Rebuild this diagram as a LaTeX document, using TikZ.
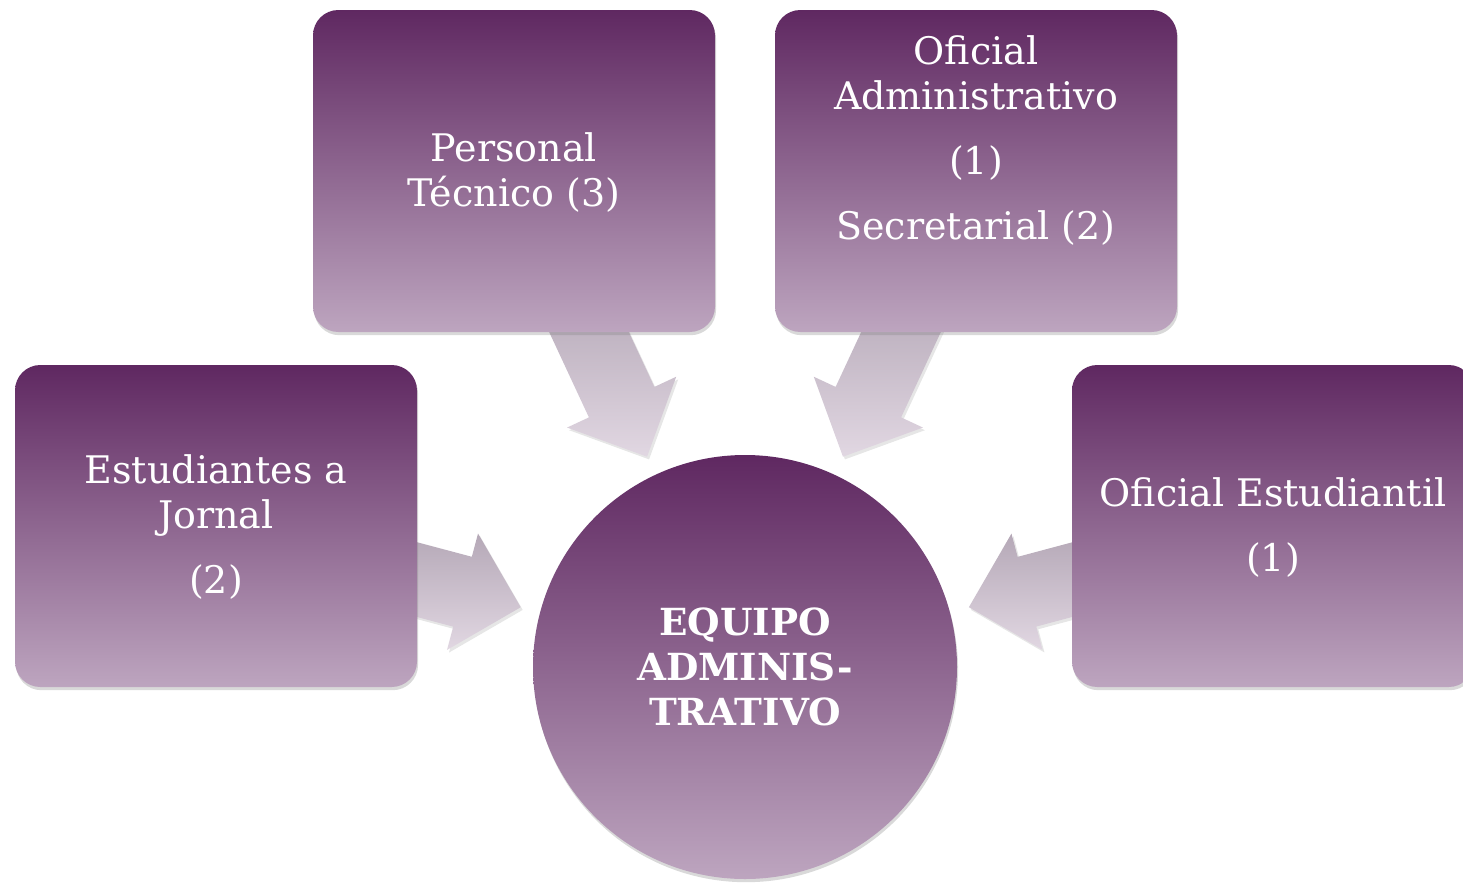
\documentclass[tikz,border=0pt]{standalone}
\usepackage{fontspec}
\setmainfont{DejaVu Serif}
\usepackage{tikz}
\usetikzlibrary{calc,shadows,backgrounds}
\definecolor{plumtop}{RGB}{95,40,97}
\definecolor{plumbot}{RGB}{189,165,191}
\definecolor{arrtop}{RGB}{178,165,180}
\definecolor{arrbot}{RGB}{225,215,226}
\tikzset{every picture/.style={line width=0.75pt}}
\tikzset{
  staffbox/.style={rounded corners=19pt, minimum width=301.5pt, minimum height=241.5pt,
    inner sep=0pt, top color=plumtop, bottom color=plumbot, draw=none,
    drop shadow={opacity=0.3, shadow xshift=0.8pt, shadow yshift=-2.4pt}},
  stafftxt/.style={text=white, align=center, inner sep=0pt,
    font=\fontsize{28.5}{33.75}\selectfont},
  hubcircle/.style={circle, minimum size=318pt, inner sep=0pt, draw=none,
    top color=plumtop, bottom color=plumbot, text=white, align=center,
    font=\fontsize{28}{34}\selectfont\bfseries,
    drop shadow={opacity=0.3, shadow xshift=0.8pt, shadow yshift=-2.4pt}},
  flowarrow/.style={top color=arrtop, bottom color=arrbot, draw=none,
    drop shadow={opacity=0.2, shadow xshift=1.5pt, shadow yshift=-2pt}},
}
% block arrow from box #1 towards circle #2
\newcommand{\blockarrow}[2]{%
  \coordinate (t) at ($(#1.center)!0.246!(#2.center)$);
  \coordinate (h) at ($(#1.center)!0.466!(#2.center)$);
  \coordinate (p) at ($(#1.center)!0.576!(#2.center)$);
  \path[flowarrow] ($(t)!0.2!90:(p)$) -- ($(h)!0.6!90:(p)$) -- ($(h)!1!90:(p)$) -- (p)
    -- ($(h)!1!-90:(p)$) -- ($(h)!0.6!-90:(p)$) -- ($(t)!0.2!-90:(p)$) -- cycle;
}

\begin{document}
\begin{tikzpicture}[x=0.75pt,y=0.75pt,yscale=-1,xscale=1]
\useasboundingbox (0,0) rectangle (1463,882);

%Rounded Rect
\node [staffbox] (tecnico) at (514,171) {};
%Rounded Rect
\node [staffbox] (oficialadm) at (976,171) {};
%Rounded Rect
\node [staffbox] (jornal) at (216,526) {};
%Rounded Rect
\node [staffbox] (estudiantil) at (1273,526) {};
%Circle
\node [hubcircle] (equipo) at (745,667) {EQUIPO\\ADMINIS-\\TRATIVO};

% Text Node
\node [stafftxt] (tecnicotxt) at (514,173) {Personal\\Técnico (3)};
% Text Node
\node [stafftxt] (oficialadmtxt) at (976,141) {Oficial\\Administrativo\\[15pt](1)\\[15pt]Secretarial (2)};
% Text Node
\node [stafftxt] (jornaltxt) at (216,527) {Estudiantes a\\Jornal\\[15pt](2)};
% Text Node
\node [stafftxt] (estudiantiltxt) at (1273,528) {Oficial Estudiantil\\[15pt](1)};

%Block Arrows
\begin{pgfonlayer}{background}
\blockarrow{tecnico}{equipo}
\blockarrow{oficialadm}{equipo}
\blockarrow{jornal}{equipo}
\blockarrow{estudiantil}{equipo}
\end{pgfonlayer}

\end{tikzpicture}
\end{document}
